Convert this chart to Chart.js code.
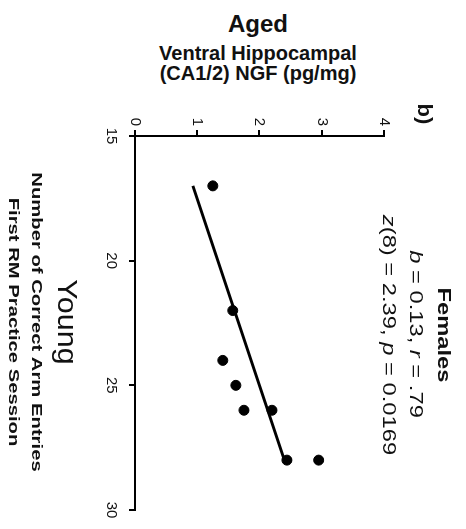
<!DOCTYPE html>
<html>
<head>
<meta charset="utf-8">
<script src="https://cdn.jsdelivr.net/npm/chart.js@4.4.1/dist/chart.umd.min.js"></script>
<style>
  body { margin: 0; background: #fff; width: 466px; height: 529px; overflow: hidden; position: relative; font-family: "Liberation Sans", Arial, sans-serif; }
  #chart { position: absolute; left: 0; top: 0; transform-origin: 0 0; transform: translate(466px, 0) rotate(90deg); }
  .head { position: absolute; left: 0; width: 516px; text-align: center; font-weight: bold; color: #111; white-space: nowrap; }
</style>
</head>
<body>
<div class="head" style="top:10px;font-size:24px;">Aged</div>
<div class="head" style="top:42px;font-size:20px;">Ventral Hippocampal</div>
<div class="head" style="top:62px;font-size:20px;">(CA1/2) NGF (pg/mg)</div>
<canvas id="chart" width="529" height="466"></canvas>
<script>
// Young: correct arm entries vs aged NGF (females)
var armEntries = [17, 22, 24, 25, 26, 26, 28, 28];
var ngf = [1.25, 1.57, 1.41, 1.62, 1.75, 2.2, 2.44, 2.95];

// fitted line end points
var fitX = [17, 28];
var fitY = [0.93, 2.4];

var xTicks = [15, 20, 25, 30];
var yTicks = [0, 1, 2, 3, 4];

var font = '"Liberation Sans", Arial, sans-serif';

function toPoints(xs, ys) {
  return xs.map(function (x, i) { return { x: x, y: ys[i] }; });
}

// draws text segments centred on cx, stretched along the text direction
function drawRich(ctx, parts, cx, y, size, weight, sx) {
  ctx.save();
  ctx.translate(cx, y);
  ctx.scale(sx, 1);
  var total = 0;
  parts.forEach(function (p) {
    ctx.font = (p[1] ? 'italic ' : '') + weight + ' ' + size + 'px ' + font;
    total += ctx.measureText(p[0]).width;
  });
  var x = -total / 2;
  ctx.fillStyle = '#111';
  ctx.textAlign = 'left';
  ctx.textBaseline = 'alphabetic';
  parts.forEach(function (p) {
    ctx.font = (p[1] ? 'italic ' : '') + weight + ' ' + size + 'px ' + font;
    ctx.fillText(p[0], x, 0);
    x += ctx.measureText(p[0]).width;
  });
  ctx.restore();
}

var labels = {
  id: 'labels',
  afterDraw: function (chart) {
    var ctx = chart.ctx;
    drawRich(ctx, [['Young', false]], 322, 408, 27, 'normal', 1.13);
    drawRich(ctx, [['Number of Correct Arm Entries', false]], 322, 434, 15, 'bold', 1.35);
    drawRich(ctx, [['First RM Practice Session', false]], 322, 457, 15, 'bold', 1.35);
    drawRich(ctx, [['Females', false]], 335, 28, 19, 'bold', 1.25);
    drawRich(ctx, [['b', true], [' = 0.13, ', false], ['r', true], [' = .79', false]], 334, 56, 19, 'normal', 1.25);
    drawRich(ctx, [['z', true], ['(8) = 2.39, ', false], ['p', true], [' = 0.0169', false]], 335, 83, 19, 'normal', 1.25);
    drawRich(ctx, [['b)', false]], 114, 48, 21, 'bold', 1.05);
  }
};

var axisStyle = {
  display: true,
  drawOnChartArea: false,
  drawTicks: true,
  tickLength: 6,
  color: '#000',
  lineWidth: 2
};

new Chart(document.getElementById('chart'), {
  type: 'scatter',
  data: {
    datasets: [
      {
        data: toPoints(armEntries, ngf),
        backgroundColor: '#000',
        borderColor: '#000',
        pointRadius: 5,
        showLine: false
      },
      {
        data: toPoints(fitX, fitY),
        borderColor: '#000',
        borderWidth: 3,
        pointRadius: 0,
        showLine: true
      }
    ]
  },
  options: {
    responsive: false,
    animation: false,
    layout: { padding: { left: 0, right: 19, top: 82, bottom: 0 } },
    plugins: { legend: { display: false }, tooltip: { enabled: false } },
    scales: {
      x: {
        type: 'linear',
        min: 15,
        max: 30,
        afterBuildTicks: function (s) { s.ticks = xTicks.map(function (v) { return { value: v }; }); },
        afterFit: function (s) { s.height = 135; },
        grid: axisStyle,
        border: { display: true, color: '#000', width: 2 },
        ticks: { color: '#111', font: { family: font, size: 15 }, padding: 9, maxRotation: 0, minRotation: 0 }
      },
      y: {
        type: 'linear',
        min: 0,
        max: 4,
        afterBuildTicks: function (s) { s.ticks = yTicks.map(function (v) { return { value: v }; }); },
        afterFit: function (s) { s.width = 136; },
        grid: axisStyle,
        border: { display: true, color: '#000', width: 2 },
        ticks: { color: '#111', font: { family: font, size: 15 }, padding: 4 }
      }
    }
  },
  plugins: [labels]
});
</script>
</body>
</html>
